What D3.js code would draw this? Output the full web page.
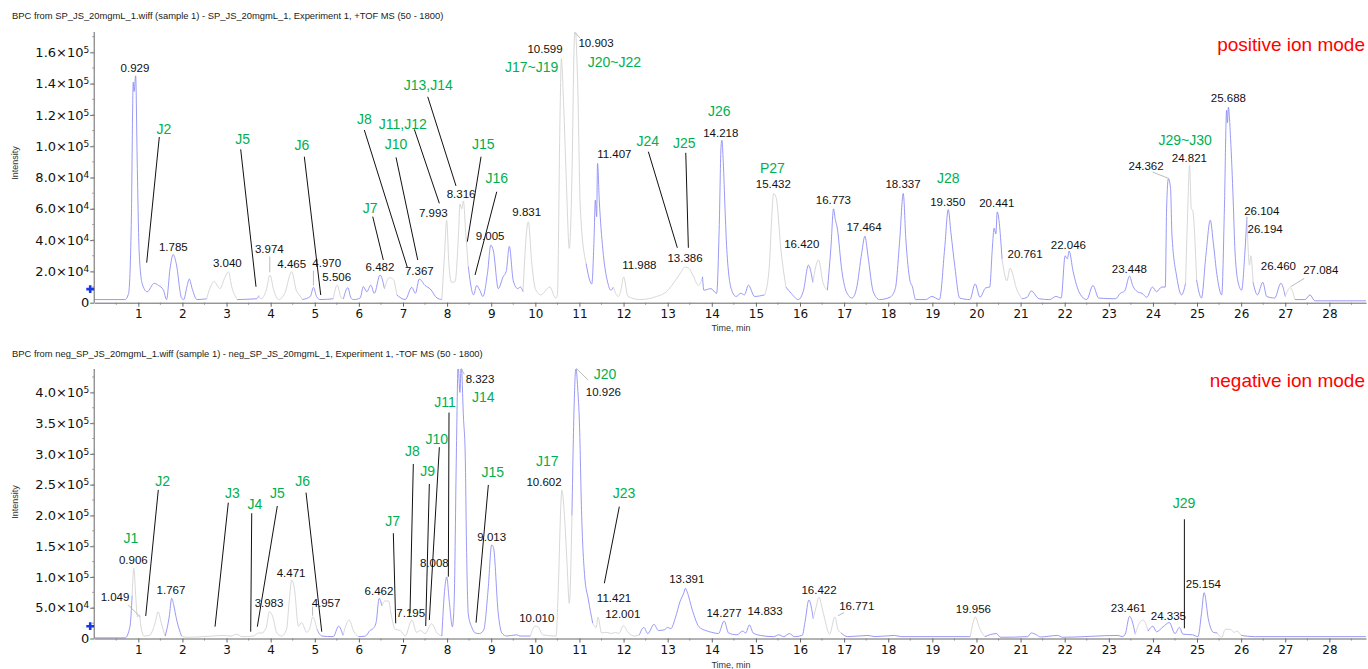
<!DOCTYPE html>
<html lang="en">
<head>
<meta charset="UTF-8">
<title>BPC chromatograms</title>
<script src="https://d3js.org/d3.v7.min.js"></script>
<style>
  html, body { margin: 0; padding: 0; background: #fff; }
  svg { display: block; font-family: "Liberation Sans", Arial, sans-serif; }
</style>
</head>
<body>
<svg id="svg" width="1368" height="669"></svg>
<script>
// intensities are in units of 10^4 counts, times in minutes

// positive ion mode trace [time, intensity]
const posTrace = [
  [0, 0.2], [0.70, 0.2], [0.78, 0.6], [0.84, 5.0], [0.886, 14.1], [0.905, 13.5], [0.94, 14.5], [0.975, 9.0],
  [1.02, 3.2], [1.09, 1.2], [1.2, 0.7], [1.36, 1.24], [1.46, 1.1], [1.57, 0.8], [1.64, 0.2], [1.72, 2.2],
  [1.79, 3.08], [1.86, 2.5], [1.98, 0.3], [2.03, 0.2], [2.10, 1.0], [2.156, 1.51], [2.22, 0.9], [2.33, 0.2],
  [2.55, 0.25], [2.62, 0.9], [2.72, 1.35], [2.85, 0.9], [2.96, 1.6], [3.04, 1.98], [3.12, 1.0], [3.24, 0.2],
  [3.68, 0.25], [3.73, 0.45], [3.78, 0.25], [3.90, 0.8], [3.985, 1.77], [4.07, 0.8], [4.18, 0.2], [4.32, 0.6],
  [4.477, 1.98], [4.58, 0.8], [4.65, 0.5], [4.72, 0.2], [4.90, 0.4], [4.97, 0.98], [5.04, 0.4], [5.12, 0.2],
  [5.42, 0.25], [5.51, 1.12], [5.60, 0.3], [5.65, 0.25], [5.75, 0.96], [5.82, 0.3], [5.88, 0.2], [6.03, 0.3],
  [6.10, 1.03], [6.18, 0.7], [6.27, 1.12], [6.35, 0.6], [6.48, 1.77], [6.58, 0.9], [6.69, 1.6], [6.78, 1.5],
  [6.86, 0.5], [7.05, 0.2], [7.2, 0.98], [7.28, 0.6], [7.37, 1.51], [7.50, 1.1], [7.62, 0.87], [7.77, 0.3],
  [7.88, 0.2], [7.94, 3.0], [7.99, 5.27], [8.04, 2.5], [8.10, 1.3], [8.18, 1.35], [8.26, 4.5], [8.29, 6.3],
  [8.33, 6.0], [8.37, 6.5], [8.42, 4.5], [8.48, 2.3], [8.60, 0.5], [8.67, 1.1], [8.74, 0.8], [8.81, 0.4],
  [8.92, 2.0], [8.99, 3.68], [9.05, 3.3], [9.16, 0.9], [9.27, 1.66], [9.34, 2.0], [9.41, 3.6], [9.50, 1.4],
  [9.60, 0.9], [9.66, 1.0], [9.72, 0.7], [9.84, 5.17], [9.92, 2.5], [10.0, 0.9], [10.12, 0.5], [10.33, 1.0],
  [10.46, 0.3], [10.50, 0.5], [10.56, 12.0], [10.59, 15.6], [10.63, 13.5], [10.70, 8.0], [10.77, 3.47],
  [10.83, 8.0], [10.88, 16.5], [10.903, 17.5], [10.96, 14.0], [11.02, 6.0], [11.15, 2.5], [11.28, 1.2],
  [11.33, 4.0], [11.36, 6.55], [11.39, 5.5], [11.41, 8.9], [11.45, 6.5], [11.53, 3.4], [11.64, 1.3],
  [11.71, 0.8], [11.77, 1.0], [11.88, 0.4], [11.94, 0.8], [12.0, 1.65], [12.1, 0.4], [12.37, 0.2],
  [12.75, 0.4], [12.98, 0.72], [13.13, 1.24], [13.28, 1.86], [13.39, 2.28], [13.48, 2.2], [13.58, 1.7],
  [13.70, 1.1], [13.79, 1.65], [13.82, 0.8], [13.98, 0.9], [14.11, 0.6], [14.17, 5.0], [14.21, 10.0],
  [14.23, 10.38], [14.26, 9.0], [14.30, 6.0], [14.34, 3.4], [14.45, 0.8], [14.55, 0.4], [14.66, 0.6],
  [14.74, 0.5], [14.83, 1.12], [14.97, 0.4], [15.20, 0.5], [15.30, 2.2], [15.36, 5.5], [15.40, 6.98],
  [15.46, 6.7], [15.57, 3.3], [15.68, 1.0], [15.80, 0.6], [15.96, 0.2], [16.08, 0.8], [16.19, 2.4],
  [16.29, 1.3], [16.42, 2.73], [16.52, 1.3], [16.62, 0.8], [16.70, 3.5], [16.76, 6.0], [16.80, 5.3],
  [16.84, 4.85], [16.95, 2.0], [17.05, 0.7], [17.18, 0.3], [17.28, 0.9], [17.40, 3.2], [17.47, 4.25],
  [17.54, 3.0], [17.66, 0.7], [17.80, 0.2], [18.04, 0.35], [18.16, 0.9], [18.26, 4.0], [18.34, 6.98],
  [18.40, 4.0], [18.49, 1.45], [18.55, 1.0], [18.62, 0.2], [18.85, 0.2], [18.99, 0.4], [19.16, 0.2],
  [19.28, 3.5], [19.36, 5.95], [19.42, 4.5], [19.51, 2.3], [19.62, 0.3], [19.85, 0.2], [19.97, 1.2],
  [20.08, 0.35], [20.21, 0.95], [20.30, 1.0], [20.36, 3.5], [20.40, 4.76], [20.44, 4.4], [20.47, 5.8],
  [20.58, 2.8], [20.69, 1.4], [20.76, 2.2], [20.92, 0.8], [21.03, 0.25], [21.15, 0.35], [21.24, 0.75],
  [21.42, 0.25], [21.66, 0.2], [21.80, 0.4], [21.92, 0.3], [22.01, 3.0], [22.06, 2.8], [22.10, 3.3],
  [22.19, 2.0], [22.34, 0.6], [22.50, 0.2], [22.64, 1.1], [22.77, 0.3], [23.15, 0.25], [23.26, 0.6],
  [23.36, 0.75], [23.47, 1.7], [23.54, 1.1], [23.65, 0.7], [23.75, 0.6], [23.86, 0.35], [23.99, 1.0],
  [24.08, 0.7], [24.2, 1.0], [24.28, 1.0], [24.31, 6.0], [24.35, 7.93], [24.40, 7.3], [24.43, 4.4],
  [24.54, 1.65], [24.65, 0.5], [24.74, 1.24], [24.79, 6.0], [24.83, 8.78], [24.87, 6.0], [24.90, 5.9],
  [24.99, 1.45], [25.10, 0.3], [25.20, 3.0], [25.30, 5.27], [25.37, 3.8], [25.45, 1.8], [25.56, 0.5],
  [25.62, 6.0], [25.67, 12.3], [25.69, 11.5], [25.71, 12.5], [25.76, 10.5], [25.82, 6.5], [25.86, 3.3],
  [25.94, 1.2], [26.01, 0.8], [26.08, 3.0], [26.13, 5.49], [26.19, 2.4], [26.22, 3.0], [26.27, 1.3],
  [26.37, 0.5], [26.49, 1.3], [26.58, 0.4], [26.76, 0.3], [26.90, 1.24], [27.0, 0.4], [27.11, 0.96],
  [27.22, 0.2], [27.45, 0.2], [27.56, 0.5], [27.67, 0.12], [28.83, 0.12]
];

// negative ion mode trace [time, intensity]
const negTrace = [
  [0, 0.1], [0.70, 0.1], [0.81, 1.9], [0.86, 7.0], [0.90, 11.4], [0.94, 7.0], [0.98, 3.5], [1.03, 3.8],
  [1.05, 2.4], [1.13, 0.4], [1.25, 0.5], [1.38, 2.5], [1.45, 4.36], [1.52, 2.5], [1.61, 0.4], [1.70, 3.5],
  [1.757, 6.53], [1.80, 5.5], [1.87, 3.0], [1.98, 0.4], [2.10, 0.2], [2.70, 0.4], [2.9, 0.5], [3.1, 0.4],
  [3.23, 0.7], [3.35, 0.3], [3.61, 0.4], [3.72, 0.9], [3.80, 0.9], [3.90, 1.8], [3.97, 4.36], [4.05, 3.5],
  [4.14, 0.9], [4.25, 0.4], [4.36, 1.5], [4.42, 6.0], [4.477, 9.5], [4.54, 8.0], [4.63, 2.0], [4.70, 2.6],
  [4.82, 1.0], [4.90, 2.0], [4.95, 3.5], [5.05, 1.5], [5.16, 0.4], [5.42, 0.3], [5.54, 2.0], [5.64, 0.5],
  [5.78, 3.0], [5.88, 1.2], [5.99, 0.3], [6.15, 0.4], [6.25, 1.3], [6.32, 1.6], [6.39, 2.6], [6.46, 6.53],
  [6.52, 5.3], [6.59, 6.1], [6.67, 6.1], [6.74, 3.6], [6.82, 1.5], [6.94, 1.3], [7.05, 0.4], [7.2, 3.0],
  [7.31, 1.0], [7.40, 1.3], [7.5, 0.8], [7.65, 2.4], [7.77, 0.9], [7.88, 0.4], [7.95, 8.3], [7.99, 10.0],
  [8.05, 6.0], [8.12, 1.9], [8.16, 6.0], [8.21, 30.0], [8.25, 44.5], [8.29, 40.0], [8.32, 44.5],
  [8.37, 36.0], [8.41, 30.0], [8.44, 15.0], [8.48, 4.0], [8.56, 1.8], [8.64, 0.9], [8.73, 0.8], [8.83, 1.4],
  [8.93, 8.0], [9.01, 15.2], [9.05, 14.8], [9.16, 4.0], [9.24, 0.9], [9.35, 0.4], [9.58, 0.6], [9.65, 0.4],
  [9.89, 0.4], [9.99, 2.0], [10.06, 1.9], [10.17, 0.6], [10.47, 0.4], [10.52, 8.0], [10.58, 22.0],
  [10.60, 24.1], [10.66, 20.0], [10.72, 12.0], [10.77, 5.7], [10.83, 20.0], [10.88, 38.0], [10.92, 44.0],
  [10.96, 40.7], [11.00, 35.0], [11.05, 20.0], [11.12, 10.0], [11.20, 6.4], [11.30, 2.5], [11.38, 1.8],
  [11.42, 3.5], [11.50, 0.9], [11.62, 1.0], [11.72, 0.8], [11.82, 1.0], [11.89, 0.8], [12.0, 2.1],
  [12.1, 1.0], [12.25, 0.4], [12.36, 0.6], [12.46, 1.8], [12.55, 0.8], [12.69, 2.3], [12.79, 1.3],
  [12.92, 1.4], [13.0, 1.8], [13.07, 1.6], [13.18, 3.5], [13.28, 6.0], [13.37, 7.5], [13.40, 8.16],
  [13.44, 7.6], [13.56, 4.6], [13.71, 1.9], [13.86, 1.3], [14.0, 1.0], [14.15, 0.8], [14.28, 2.85],
  [14.38, 0.9], [14.57, 0.6], [14.70, 1.2], [14.77, 0.9], [14.85, 2.2], [14.94, 0.9], [15.1, 0.5],
  [15.4, 0.3], [15.52, 0.6], [15.63, 0.3], [15.76, 0.8], [15.87, 0.3], [16.05, 0.5], [16.12, 3.0],
  [16.2, 6.26], [16.3, 3.2], [16.36, 5.0], [16.43, 6.7], [16.50, 5.0], [16.56, 3.2], [16.67, 0.7],
  [16.79, 3.5], [16.86, 1.5], [16.93, 0.9], [17.08, 0.3], [17.54, 0.5], [17.70, 0.3], [18.14, 0.5],
  [18.3, 0.3], [19.86, 0.3], [19.92, 2.5], [19.97, 3.5], [20.08, 1.5], [20.19, 0.3], [20.45, 0.8],
  [20.55, 0.2], [21.16, 0.3], [21.24, 0.9], [21.36, 0.6], [21.45, 0.25], [21.84, 0.5], [21.95, 0.2],
  [23.21, 0.5], [23.30, 0.3], [23.37, 0.7], [23.47, 3.6], [23.60, 0.7], [23.71, 2.7], [23.78, 3.0],
  [23.89, 1.2], [24.0, 2.0], [24.08, 1.1], [24.23, 1.9], [24.37, 2.6], [24.50, 0.8], [24.60, 1.8],
  [24.68, 0.7], [24.90, 0.6], [25.02, 0.3], [25.10, 4.0], [25.16, 7.45], [25.26, 3.0], [25.37, 1.0],
  [25.46, 0.9], [25.56, 0.2], [25.64, 1.5], [25.75, 1.5], [25.85, 1.0], [25.90, 1.2], [26.0, 0.5],
  [26.3, 0.3], [28.83, 0.3]
];

// stretches of the trace drawn grey instead of blue
const posGrayRanges = [[2.45, 3.3], [3.75, 4.75], [5.35, 5.65], [6.55, 6.95], [7.85, 8.5], [9.7, 11.1],
  [11.8, 13.75], [15.2, 15.7], [16.3, 16.6], [20.6, 21.0], [24.75, 24.95], [26.15, 26.3], [27.0, 27.3]];
const negGrayRanges = [[0.85, 1.65], [1.95, 3.7], [3.75, 5.1], [5.65, 5.95], [6.5, 7.85], [9.9, 10.8],
  [11.3, 12.4], [16.3, 17.0], [19.8, 20.2], [23.6, 23.9], [25.5, 26.0]];

// peak retention-time labels [text, time, intensity]
const posPeakLabels = [
  ["0.929", 0.925, 15.02], ["1.785", 1.793, 3.58], ["3.040", 3.017, 2.52], ["3.974", 3.970, 3.45],
  ["4.465", 4.477, 2.47], ["4.970", 5.271, 2.52], ["5.506", 5.498, 1.66], ["6.482", 6.479, 2.30],
  ["7.367", 7.370, 2.04], ["7.993", 7.688, 5.75], ["8.316", 8.316, 6.93], ["9.005", 8.973, 4.26],
  ["9.831", 9.805, 5.81], ["10.599", 10.220, 16.21], ["10.903", 11.376, 16.58], ["11.407", 11.791, 9.48],
  ["11.988", 12.358, 2.41], ["13.386", 13.394, 2.84], ["14.218", 14.203, 10.86], ["15.432", 15.395, 7.57],
  ["16.420", 16.039, 3.73], ["16.773", 16.756, 6.56], ["17.464", 17.452, 4.82], ["18.337", 18.336, 7.57],
  ["19.350", 19.349, 6.45], ["20.441", 20.460, 6.35], ["20.761", 21.102, 3.09], ["22.046", 22.083, 3.69],
  ["23.448", 23.466, 2.13], ["24.362", 23.845, 8.73], ["24.821", 24.826, 9.23], ["25.688", 25.711, 13.06],
  ["26.104", 26.468, 5.86], ["26.194", 26.543, 4.73], ["26.460", 26.844, 2.35], ["27.084", 27.805, 2.09]
];
const negPeakLabels = [
  ["0.906", 0.886, 12.76], ["1.049", 0.472, 6.80], ["1.767", 1.741, 7.89], ["3.983", 3.963, 5.82],
  ["4.471", 4.462, 10.70], ["4.957", 5.255, 5.82], ["6.462", 6.456, 7.77], ["7.195", 7.175, 4.20],
  ["8.008", 7.710, 12.33], ["8.323", 8.746, 42.15], ["9.013", 9.012, 16.46], ["10.010", 10.032, 3.28],
  ["10.602", 10.197, 25.50], ["10.926", 11.542, 40.03], ["11.421", 11.784, 6.54], ["12.001", 11.981, 3.93],
  ["13.391", 13.432, 9.67], ["14.277", 14.278, 4.20], ["14.833", 15.207, 4.52], ["16.422", 16.432, 7.89],
  ["16.771", 17.286, 5.33], ["19.956", 19.930, 4.75], ["23.461", 23.444, 4.91], ["24.335", 24.351, 3.66],
  ["25.154", 25.144, 8.81]
];

// compound labels [text, time, intensity]
const posCompounds = [
  ["J2", 1.582, 11.08], ["J5", 3.367, 10.44], ["J6", 4.711, 10.08], ["J7", 6.253, 6.03], ["J8", 6.123, 11.74],
  ["J10", 6.842, 10.12], ["J11,J12", 6.994, 11.42], ["J13,J14", 7.574, 13.89], ["J15", 8.821, 10.12],
  ["J16", 9.125, 7.95], ["J17~J19", 9.918, 15.08], ["J20~J22", 11.791, 15.40], ["J24", 12.548, 10.35],
  ["J25", 13.378, 10.22], ["J26", 14.171, 12.27], ["P27", 15.373, 8.59], ["J28", 19.363, 7.95],
  ["J29~J30", 24.73, 10.40]
];
const negCompounds = [
  ["J1", 0.834, 16.29], ["J2", 1.553, 25.50], ["J3", 3.131, 23.61], ["J4", 3.645, 21.87], ["J5", 4.151, 23.71],
  ["J6", 4.727, 25.50], ["J7", 6.767, 19.15], ["J8", 7.212, 30.49], ["J9", 7.561, 27.24], ["J10", 7.765, 32.44],
  ["J11", 7.953, 38.50], ["J14", 8.821, 39.22], ["J15", 9.034, 27.12], ["J17", 10.272, 28.91],
  ["J20", 11.580, 42.96], ["J23", 12.011, 23.71], ["J29", 24.707, 22.08]
];

// leader lines from compound labels to peaks [t1, i1, t2, i2]
const posLeaders = [
  [1.476, 10.59, 1.190, 2.56], [3.321, 9.80, 3.668, 1.02], [4.763, 9.33, 5.135, 0.49],
  [6.314, 5.50, 6.554, 2.73], [6.123, 11.04, 7.098, 2.26], [6.842, 9.29, 7.334, 2.73],
  [7.257, 11.08, 7.824, 6.35], [7.561, 13.16, 8.202, 7.46], [8.769, 9.33, 8.458, 3.90],
  [9.125, 7.09, 8.633, 1.77], [12.562, 9.65, 13.219, 3.51], [13.410, 9.58, 13.469, 3.51]
];
const negLeaders = [
  [1.453, 24.15, 1.168, 3.66], [3.040, 22.08, 2.739, 1.92], [3.571, 20.36, 3.548, 1.11],
  [4.151, 21.54, 3.698, 1.92], [4.802, 23.71, 5.158, 1.11], [6.781, 17.11, 6.835, 2.47],
  [7.234, 28.37, 7.159, 4.10], [7.597, 25.12, 7.515, 2.03], [7.824, 31.09, 7.597, 3.01],
  [8.043, 36.72, 8.028, 10.05], [8.935, 24.96, 8.656, 2.57], [11.904, 21.43, 11.564, 8.98],
  [24.713, 19.38, 24.713, 1.66]
];

// short grey pointers from rt labels to peaks [t1, i1, t2, i2]
const posPointers = [[10.903, 17.25, 11.02, 16.9], [23.99, 8.35, 24.35, 7.95], [27.12, 1.02, 27.43, 1.55],
  [3.98, 2.95, 3.98, 1.95], [4.97, 2.05, 4.97, 1.1]];
const negPointers = [[0.773, 5.45, 1.038, 3.54], [10.926, 43.9, 11.2, 42.0], [8.32, 43.9, 8.39, 42.9],
  [16.86, 3.7, 17.0, 4.2], [4.95, 5.2, 4.95, 3.7]];

const posYTicks = [0, 2, 4, 6, 8, 10, 12, 14, 16];
const negYTicks = [0, 5, 10, 15, 20, 25, 30, 35, 40];
const timeTicks = d3.range(1, 29);

const svg = d3.select("#svg");
const x = d3.scaleLinear().domain([0, 28.83]).range([94.2, 1366]);

function expLabel(sel, d) {
  sel.text(null);
  if (d === 0) { sel.text("0"); return; }
  const e = d >= 10 ? 5 : 4;
  const m = d >= 10 ? d / 10 : d;
  sel.append("tspan").text(m.toFixed(1) + "\u00d710");
  sel.append("tspan").attr("dy", "-0.45em").attr("font-size", "9px").text(e);
}

function drawPanel(p) {
  const y = d3.scaleLinear().domain([0, p.yMax]).range([p.y0, p.y1]);
  const g = svg.append("g");

  g.append("text").attr("x", 12).attr("y", p.titleY)
    .attr("font-size", "9.4px").attr("fill", "#222").text(p.title);

  g.append("text").attr("x", 1365).attr("y", p.modeY).attr("text-anchor", "end")
    .attr("font-size", "19px").attr("fill", "#ff0000").text(p.mode);

  g.append("text").attr("transform", `translate(18,${p.intensityY}) rotate(-90)`)
    .attr("text-anchor", "middle").attr("font-size", "9px").attr("fill", "#333").text("Intensity");

  g.append("text").attr("x", 731).attr("y", p.timeY).attr("text-anchor", "middle")
    .attr("font-size", "9px").attr("fill", "#333").text("Time, min");

  // clip so saturated peaks stop at the top of the axis
  const clipId = "clip-" + p.name;
  svg.append("clipPath").attr("id", clipId).append("rect")
    .attr("x", x(0)).attr("y", p.y1).attr("width", x.range()[1] - x(0)).attr("height", p.y0 - p.y1 + 2);

  const isGray = t => p.gray.some(r => t >= r[0] && t <= r[1]);
  const segs = [];
  let cur = [p.trace[0]];
  let curGray = isGray((p.trace[0][0] + p.trace[1][0]) / 2);
  for (let i = 1; i < p.trace.length; i++) {
    cur.push(p.trace[i]);
    if (i < p.trace.length - 1) {
      const g2 = isGray((p.trace[i][0] + p.trace[i + 1][0]) / 2);
      if (g2 !== curGray) {
        segs.push({ gray: curGray, pts: cur });
        cur = [p.trace[i]];
        curGray = g2;
      }
    }
  }
  segs.push({ gray: curGray, pts: cur });

  const line = d3.line().x(d => x(d[0])).y(d => y(d[1])).curve(d3.curveMonotoneX);
  g.append("g").attr("clip-path", `url(#${clipId})`)
    .selectAll("path").data(segs).join("path")
    .attr("d", d => line(d.pts))
    .attr("fill", "none")
    .attr("stroke", d => d.gray ? "#d3d3d3" : "#8d8df5")
    .attr("stroke-width", 0.9);

  // axes
  const xAxis = g.append("g").attr("transform", `translate(0,${p.y0})`)
    .call(d3.axisBottom(x).tickValues(timeTicks).tickSize(4).tickSizeOuter(0).tickFormat(d3.format("d")));
  xAxis.select(".domain").attr("stroke", "#666");
  xAxis.selectAll(".tick line").attr("stroke", "#666");
  xAxis.selectAll(".tick text").attr("font-family", "DejaVu Sans, sans-serif").attr("font-size", "12px").attr("fill", "#111");
  g.append("g").selectAll("line").data(d3.range(0.5, 28.6, 1)).join("line")
    .attr("x1", d => x(d)).attr("x2", d => x(d)).attr("y1", p.y0).attr("y2", p.y0 + 2).attr("stroke", "#888");

  const yAxis = g.append("g").attr("transform", `translate(${x(0)},0)`)
    .call(d3.axisLeft(y).tickValues(p.yTicks).tickSize(4).tickPadding(1).tickSizeOuter(0));
  yAxis.select(".domain").attr("stroke", "#666").attr("d", `M0,${p.y0}V${p.y1}`);
  yAxis.selectAll(".tick line").attr("stroke", "#666");
  yAxis.selectAll(".tick text").attr("font-family", "DejaVu Sans, sans-serif").attr("font-size", "13px")
    .attr("fill", "#111").each(function (d) { expLabel(d3.select(this), d); });
  const step = p.yTicks[1] - p.yTicks[0];
  g.append("g").selectAll("line").data(d3.range(step / 2, p.yMax, step / 2)).join("line")
    .attr("x1", x(0) - 2).attr("x2", x(0)).attr("y1", d => y(d)).attr("y2", d => y(d)).attr("stroke", "#999");

  // threshold marker
  g.append("path").attr("d", d3.symbol(d3.symbolCross, 34)())
    .attr("transform", `translate(${x(0) - 4},${y(p.marker)})`).attr("fill", "#1638e6");

  // annotations
  g.append("g").selectAll("line").data(p.pointers).join("line")
    .attr("x1", d => x(d[0])).attr("y1", d => y(d[1])).attr("x2", d => x(d[2])).attr("y2", d => y(d[3]))
    .attr("stroke", "#aaa").attr("stroke-width", 0.8);
  g.append("g").selectAll("line").data(p.leaders).join("line")
    .attr("x1", d => x(d[0])).attr("y1", d => y(d[1])).attr("x2", d => x(d[2])).attr("y2", d => y(d[3]))
    .attr("stroke", "#111").attr("stroke-width", 1);
  g.append("g").selectAll("text").data(p.peaks).join("text")
    .attr("x", d => x(d[1])).attr("y", d => y(d[2])).attr("dy", "0.35em")
    .attr("text-anchor", "middle").attr("font-size", "11.5px").attr("fill", "#111").text(d => d[0]);
  g.append("g").selectAll("text").data(p.compounds).join("text")
    .attr("x", d => x(d[1])).attr("y", d => y(d[2])).attr("dy", "0.35em")
    .attr("text-anchor", "middle").attr("font-size", "14px").attr("fill", "#00b050").text(d => d[0]);
}

drawPanel({
  name: "pos", y0: 302.7, y1: 32, yMax: 17.3, yTicks: posYTicks,
  trace: posTrace, gray: posGrayRanges, peaks: posPeakLabels, compounds: posCompounds,
  leaders: posLeaders, pointers: posPointers, marker: 0.87,
  title: "BPC from SP_JS_20mgmL_1.wiff (sample 1) - SP_JS_20mgmL_1, Experiment 1, +TOF MS (50 - 1800)",
  titleY: 19, mode: "positive ion mode", modeY: 51, intensityY: 163, timeY: 331
});
drawPanel({
  name: "neg", y0: 638.5, y1: 369, yMax: 43.8, yTicks: negYTicks,
  trace: negTrace, gray: negGrayRanges, peaks: negPeakLabels, compounds: negCompounds,
  leaders: negLeaders, pointers: negPointers, marker: 2.0,
  title: "BPC from neg_SP_JS_20mgmL_1.wiff (sample 1) - neg_SP_JS_20mgmL_1, Experiment 1, -TOF MS (50 - 1800)",
  titleY: 357, mode: "negative ion mode", modeY: 387, intensityY: 502, timeY: 668
});
</script>
</body>
</html>
